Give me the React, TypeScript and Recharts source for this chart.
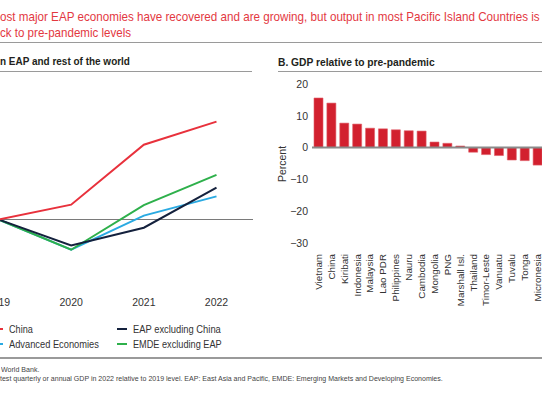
import React, { useLayoutEffect, useRef, useState } from 'react';
import { LineChart, Line, BarChart, Bar, XAxis, YAxis, ReferenceLine } from 'recharts';

const FONT = '"Liberation Sans", Arial, sans-serif';

// Panel A
const years = ['2019', '2020', '2021', '2022'];
const chinaVals = [0, 2.7, 13.6, 17.8];
const advancedVals = [0, -5.5, 0.7, 4.2];
const emdeExEapVals = [0, -5.5, 2.6, 8.1];
const eapExChinaVals = [0, -4.7, -1.5, 5.8];

const seriesNames = ['China', 'Advanced Economies', 'EAP excluding China', 'EMDE excluding EAP'];
const seriesColors = ['#e8313c', '#2aaae2', '#14213d', '#2eb04b'];

// Panel B
const countries = ['Vietnam', 'China', 'Kiribati', 'Indonesia', 'Malaysia', 'Lao PDR', 'Philippines', 'Nauru', 'Cambodia', 'Mongolia', 'PNG', 'Marshall Isl.', 'Thailand', 'Timor-Leste', 'Vanuatu', 'Tuvalu', 'Tonga', 'Micronesia'];
const gdpRelative = [15.6, 14.0, 7.7, 7.4, 6.1, 5.9, 5.6, 5.3, 5.2, 1.75, 1.35, 0.5, -1.45, -2.2, -2.5, -3.9, -4.1, -5.5];
const yTicksB = [-30, -20, -10, 0, 10, 20];

const lineData = years.map((y, i) => ({
  year: y,
  china: chinaVals[i],
  adv: advancedVals[i],
  emde: emdeExEapVals[i],
  eap: eapExChinaVals[i],
}));

const barData = countries.map((c, i) => ({ country: c, value: gdpRelative[i] }));

const RotTick = (props: any) => {
  const { x, y, payload } = props;
  return (
    <text
      x={x}
      y={y}
      transform={`rotate(-90, ${x}, ${y})`}
      textAnchor="end"
      dy="0.35em"
      fontSize={9.8}
      fill="#333"
      fontFamily={FONT}
    >
      {payload.value}
    </text>
  );
};

function FitText({ width, style, children }: { width: number; style?: React.CSSProperties; children: React.ReactNode }) {
  const ref = useRef<HTMLSpanElement>(null);
  const [s, setS] = useState(1);
  useLayoutEffect(() => {
    if (ref.current) {
      const w = ref.current.offsetWidth;
      if (w > 0) setS(width / w);
    }
  }, [width]);
  return (
    <span
      ref={ref}
      style={{
        display: 'inline-block',
        whiteSpace: 'nowrap',
        transform: `scaleX(${s})`,
        transformOrigin: 'left center',
        ...style,
      }}
    >
      {children}
    </span>
  );
}

const rule = (left: number, top: number, width: number) => (
  <div style={{ position: 'absolute', left, top, width, height: 1.5, background: '#9a9a9a' }} />
);

const abs = (left: number, top: number): React.CSSProperties => ({ position: 'absolute', left, top, whiteSpace: 'nowrap' });

export default function App() {
  const legendItems = [
    { name: seriesNames[0], color: seriesColors[0], left: -7.5, top: 329.3, w: 24 },
    { name: seriesNames[1], color: seriesColors[1], left: -7.5, top: 344.3, w: 89.5 },
    { name: seriesNames[2], color: seriesColors[2], left: 116.5, top: 329.3, w: 87.7 },
    { name: seriesNames[3], color: seriesColors[3], left: 116.5, top: 344.3, w: 88.3 },
  ];
  return (
    <div
      style={{
        position: 'absolute',
        left: 0,
        top: 0,
        width: 542,
        height: 408,
        overflow: 'hidden',
        background: '#fff',
        fontFamily: FONT,
      }}
    >
      <div style={{ ...abs(0, 9), fontSize: 13.5, lineHeight: '16px', color: '#e3383f' }}>
        <FitText width={540}>ost major EAP economies have recovered and are growing, but output in most Pacific Island Countries is</FitText>
      </div>
      <div style={{ ...abs(0, 24.5), fontSize: 13.5, lineHeight: '16px', color: '#e3383f' }}>
        <FitText width={131}>ck to pre-pandemic levels</FitText>
      </div>
      {rule(0, 41.5, 542)}
      <div style={{ ...abs(0, 52.5), fontSize: 11.5, lineHeight: '16px', color: '#231f20', fontWeight: 'bold' }}>
        <FitText width={130}>n EAP and rest of the world</FitText>
      </div>
      <div style={{ ...abs(277.5, 53.5), fontSize: 11.5, lineHeight: '16px', color: '#231f20', fontWeight: 'bold' }}>
        <FitText width={157}>B. GDP relative to pre-pandemic</FitText>
      </div>
      {rule(0, 70.5, 252)}
      {rule(278, 70.5, 264)}

      <div style={{ position: 'absolute', left: -38, top: 82 }}>
        <LineChart width={291} height={239} data={lineData} margin={{ top: 0, right: 0, left: 0, bottom: 0 }}>
          <XAxis
            dataKey="year"
            axisLine={false}
            tickLine={false}
            interval={0}
            height={30}
            padding={{ left: 36.5, right: 36.5 }}
            tick={{ fill: '#333', fontSize: 10.5, fontFamily: FONT }}
          />
          <YAxis hide domain={[-13, 25]} />
          <ReferenceLine y={0} stroke="#7a7a7a" strokeWidth={1.2} />
          <Line dataKey="adv" name={seriesNames[1]} stroke={seriesColors[1]} strokeWidth={2} dot={false} isAnimationActive={false} />
          <Line dataKey="emde" name={seriesNames[3]} stroke={seriesColors[3]} strokeWidth={2} dot={false} isAnimationActive={false} />
          <Line dataKey="eap" name={seriesNames[2]} stroke={seriesColors[2]} strokeWidth={2} dot={false} isAnimationActive={false} />
          <Line dataKey="china" name={seriesNames[0]} stroke={seriesColors[0]} strokeWidth={2} dot={false} isAnimationActive={false} />
        </LineChart>
      </div>

      <div style={{ position: 'absolute', left: 272, top: 74 }}>
        <BarChart width={272} height={239} data={barData} margin={{ top: 10, right: 0, left: 0, bottom: 0 }}>
          <XAxis dataKey="country" axisLine={false} tickLine={false} tickMargin={5} interval={0} height={70} tick={<RotTick />} />
          <YAxis
            width={40}
            domain={[-30, 20]}
            ticks={yTicksB}
            axisLine={false}
            tickLine={false}
            tickSize={2}
            tick={{ fill: '#333', fontSize: 10.5, fontFamily: FONT }}
            tickFormatter={(v: number) => (v < 0 ? '\u2212' + Math.abs(v) : String(v))}
          />
          <Bar dataKey="value" fill="#d2202e" stroke="#e0606a" strokeWidth={0.6} barSize={9} isAnimationActive={false} />
          <ReferenceLine y={0} stroke="#8a8a8a" strokeWidth={2} />
        </BarChart>
      </div>
      <div
        style={{
          position: 'absolute',
          left: 281.7,
          top: 164.3,
          transform: 'translate(-50%, -50%) rotate(-90deg)',
          fontSize: 10.5,
          color: '#333',
          whiteSpace: 'nowrap',
        }}
      >
        Percent
      </div>

      {legendItems.map((it) => (
        <div key={it.name} style={{ position: 'absolute', left: it.left, top: it.top - 8, height: 16, display: 'flex', alignItems: 'center', whiteSpace: 'nowrap' }}>
          <div style={{ width: 10.8, height: 2, background: it.color, marginRight: 6 }} />
          <span style={{ fontSize: 11, color: '#333' }}>
            <FitText width={it.w}>{it.name}</FitText>
          </span>
        </div>
      ))}
      {rule(0, 357, 542)}
      <div style={{ ...abs(1, 365), fontSize: 8, lineHeight: '10px', color: '#444' }}>
        <FitText width={38}>World Bank.</FitText>
      </div>
      <div style={{ ...abs(0, 374), fontSize: 8, lineHeight: '10px', color: '#444' }}>
        <FitText width={443}>test quarterly or annual GDP in 2022 relative to 2019 level. EAP: East Asia and Pacific, EMDE: Emerging Markets and Developing Economies.</FitText>
      </div>
    </div>
  );
}
